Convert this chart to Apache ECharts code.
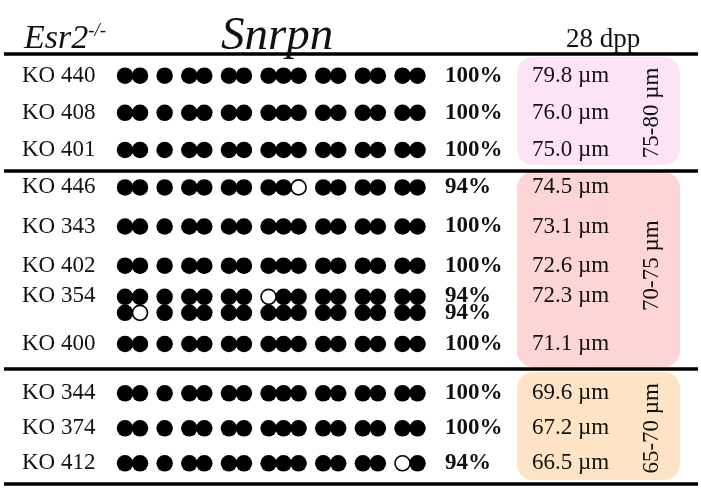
<!DOCTYPE html>
<html><head><meta charset="utf-8">
<script src="https://cdn.jsdelivr.net/npm/echarts@6/dist/echarts.min.js"></script>
<style>html,body{margin:0;padding:0;background:#fff}#c{width:701px;height:490px}</style>
</head><body><div id="c"></div>
<script>
// ---- data ----
const clones = ['KO 440','KO 408','KO 401','KO 446','KO 343','KO 402','KO 354','KO 400','KO 344','KO 374','KO 412'];
const cloneSizeClass = [0,0,0,1,1,1,1,1,2,2,2];
// one string per sequenced strand, 1 = methylated CpG, 0 = unmethylated
const methylation = [
  ['1111111111111111'],
  ['1111111111111111'],
  ['1111111111111111'],
  ['1111111110111111'],
  ['1111111111111111'],
  ['1111111111111111'],
  ['1111111011111111','1011111111111111'],
  ['1111111111111111'],
  ['1111111111111111'],
  ['1111111111111111'],
  ['1111111111111101']
];
const percentMethylated = [['100%'],['100%'],['100%'],['94%'],['100%'],['100%'],['94%','94%'],['100%'],['100%'],['100%'],['94%']];
const oocyteDiameter = [79.8, 76.0, 75.0, 74.5, 73.1, 72.6, 72.3, 71.1, 69.6, 67.2, 66.5];
const sizeClasses = ['75-80 µm','70-75 µm','65-70 µm'];
const cpgGroups = [2,1,2,2,3,2,2,2];

// ---- layout ----
const GAP = 0.643;
const siteX = [];
(function(){ let i=0; cpgGroups.forEach((n,g)=>{ for(let k=0;k<n;k++){ siteX.push(i + g*GAP); i++; } }); })();

const FONT = '"Liberation Serif","Times New Roman",serif';
const FS = 23;
const gridBoxes = [
  {top:57.1, height:111.5},
  {top:167.8, height:195.75},
  {top:375.8, height:105}
];
const boxColors = ['#fde3f6','#fed5d7','#fee4c4'];
const GL = 110, GW = 322.5;

const grid=[], xAxis=[], yAxis=[], series=[];
gridBoxes.forEach((b,gi)=>{
  grid.push({left:GL, width:GW, top:b.top, height:b.height});
  xAxis.push({type:'value', gridIndex:gi, min:-1, max:20.5, show:false});
  const idx = clones.map((c,i)=>i).filter(i=>cloneSizeClass[i]===gi);
  const cats = idx.map(i=>clones[i]);
  const base = {type:'category', gridIndex:gi, data:cats, inverse:true,
    axisLine:{show:false}, axisTick:{show:false}, splitLine:{show:false}};
  const shiftRich = {up:{fontFamily:FONT, fontSize:FS, color:'#111', padding:[0,0,17,0]}};
  const yl = yAxis.length;
  yAxis.push(Object.assign({}, base, {position:'left',
    axisLabel:{align:'left', margin:88, fontFamily:FONT, fontSize:FS, color:'#111',
      formatter:(v)=>{ const i=clones.indexOf(v); return methylation[i].length>1 ? '{up|'+v+'}' : v; },
      rich:shiftRich}}));
  yAxis.push(Object.assign({}, base, {position:'right',
    axisLabel:{align:'left', margin:12.5, fontFamily:FONT, fontSize:FS, fontWeight:'bold', color:'#111', lineHeight:17,
      formatter:(v)=>percentMethylated[clones.indexOf(v)].join('\n')}}));
  yAxis.push(Object.assign({}, base, {position:'right', offset:0,
    name:sizeClasses[gi], nameLocation:'middle', nameRotate:90, nameGap:208,
    nameTextStyle:{fontFamily:FONT, fontSize:FS, color:'#111'},
    axisLabel:{align:'left', margin:99.5, fontFamily:FONT, fontSize:FS, color:'#111',
      formatter:(v)=>{ const i=clones.indexOf(v); const t=oocyteDiameter[i].toFixed(1)+' µm'; return methylation[i].length>1 ? '{up|'+t+'}' : t; },
      rich:shiftRich}}));
  const meth=[], unmeth=[];
  idx.forEach(i=>{
    const strands = methylation[i];
    strands.forEach((s,si)=>{
      const off = (si - (strands.length-1)/2)*16;
      s.split('').forEach((ch,k)=>{
        const item = {value:[siteX[k], clones[i]], symbolOffset:[0, off]};
        (ch==='1'?meth:unmeth).push(item);
      });
    });
  });
  series.push({type:'scatter', xAxisIndex:gi, yAxisIndex:yl, data:meth, symbol:'circle', symbolSize:16.5,
    itemStyle:{color:'#000', opacity:1}, clip:false, silent:true, z:3});
  series.push({type:'scatter', xAxisIndex:gi, yAxisIndex:yl, data:unmeth, symbol:'circle', symbolSize:15,
    itemStyle:{color:'#fff', borderColor:'#000', borderWidth:1.6, opacity:1}, clip:false, silent:true, z:4});
});

const graphic = [];
const boxes = [[57,108],[172,195],[372,108]];
boxes.forEach((b,i)=>graphic.push({type:'rect', z:-1, shape:{x:517, y:b[0], width:163, height:b[1], r:16}, style:{fill:boxColors[i]}}));
[54,171,369,484].forEach(y=>graphic.push({type:'line', z:5, shape:{x1:4,y1:y,x2:698,y2:y}, style:{stroke:'#000', lineWidth:3.5}}));

const chart = echarts.init(document.getElementById('c'), null, {renderer:'canvas'});
chart.setOption({
  animation:false,
  backgroundColor:'#fff',
  title:[
    {text:'{e|Esr2}{s|-/-}', left:19, top:16, textStyle:{rich:{
      e:{fontFamily:FONT, fontStyle:'italic', fontWeight:'normal', fontSize:34, color:'#111'},
      s:{fontFamily:FONT, fontStyle:'italic', fontWeight:'normal', fontSize:19, color:'#111', padding:[0,0,17,0]}}}},
    {text:'Snrpn', left:216, top:8, textStyle:{fontFamily:FONT, fontStyle:'italic', fontWeight:'normal', fontSize:47, color:'#111'}},
    {text:'28 dpp', left:561, top:21, textStyle:{fontFamily:FONT, fontWeight:'normal', fontSize:27, color:'#111'}}
  ],
  grid, xAxis, yAxis, series, graphic
});
</script></body></html>
